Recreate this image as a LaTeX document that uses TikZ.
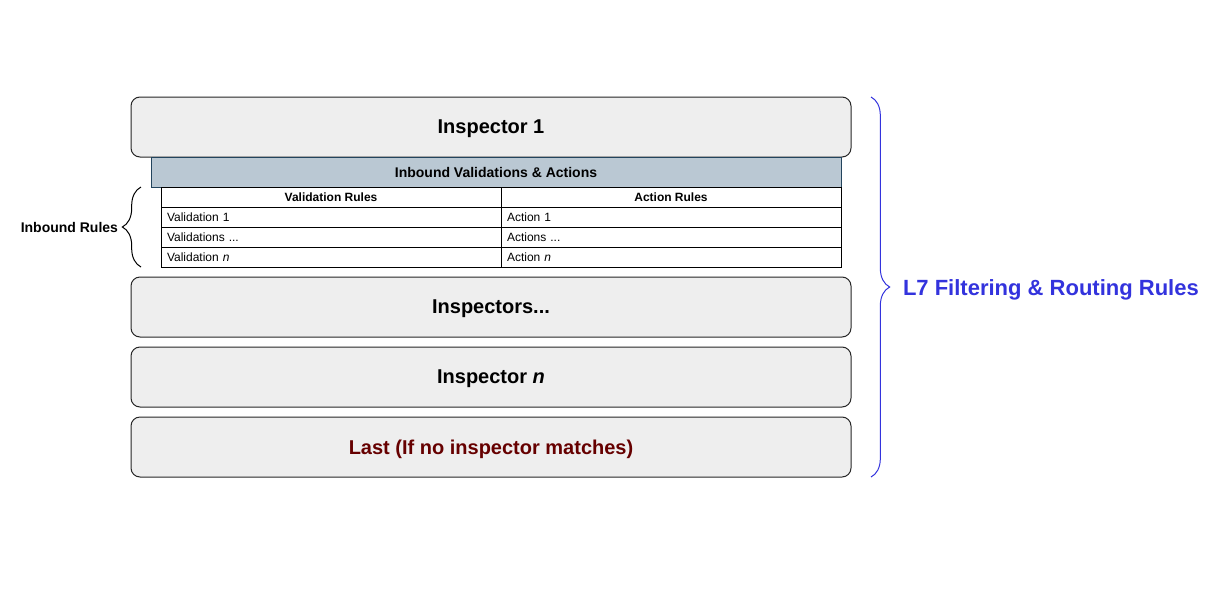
\documentclass[tikz,border=0pt]{standalone}
\usepackage{fontspec}
\setmainfont{Liberation Sans}
\usetikzlibrary{positioning,decorations.pathreplacing}
\definecolor{boxgray}{RGB}{238,238,238}
\definecolor{barblue}{RGB}{186,200,211}
\definecolor{bardark}{RGB}{35,68,93}
\definecolor{rulesblue}{RGB}{51,51,221}
\definecolor{lastred}{RGB}{102,0,0}

\begin{document}
\begin{tikzpicture}[x=0.75pt,y=-0.75pt,line width=0.75pt,every node/.style={outer sep=0pt,text depth=0pt},
    inspector/.style={draw=black!85,fill=boxgray,rounded corners=6.75pt,minimum width=540pt,minimum height=45pt,font=\fontsize{15}{18}\selectfont\bfseries},
    headbar/.style={draw=bardark,fill=barblue,minimum width=517.5pt,minimum height=22.5pt,font=\fontsize{10.5}{12}\selectfont\bfseries},
    cellhead/.style={draw,minimum width=255pt,minimum height=15pt,inner sep=0pt,font=\fontsize{9}{10}\selectfont\bfseries},
    cell/.style={draw,text width=246pt,inner xsep=4.5pt,inner ysep=0pt,minimum height=15pt,align=left,font=\fontsize{9}{10}\selectfont},
    rulebrace/.style={draw=#1,decorate,decoration={brace,amplitude=14pt}},
    bracelabel/.style={inner sep=0pt,font=\fontsize{10.5}{12}\selectfont\bfseries}]
    \useasboundingbox (0,0) rectangle (1220,600);

    \node[inspector] (insp1) at (491,127) {Inspector 1};
    \node[headbar] (bar) [below=0pt of insp1, xshift=3.75pt] {Inbound Validations \& Actions};

    \node[cellhead] (vhead) [below right=0pt and 7.5pt of bar.south west] {Validation Rules};
    \node[cellhead] (ahead) [right=0pt of vhead] {Action Rules};
    \node[cell] (val1) [below=0pt of vhead] {Validation 1};
    \node[cell] (act1) [right=0pt of val1] {Action 1};
    \node[cell] (valx) [below=0pt of val1] {Validations ...};
    \node[cell] (actx) [right=0pt of valx] {Actions ...};
    \node[cell] (valn) [below=0pt of valx] {Validation \textit{n}};
    \node[cell] (actn) [right=0pt of valn] {Action \textit{n}};

    \node[inspector] (insp2) [below=90pt of insp1] {Inspectors...};
    \node[inspector] (inspn) [below=7.5pt of insp2] {Inspector \textit{n}};
    \node[inspector,text=lastred] (last) [below=7.5pt of inspn] {Last (If no inspector matches)};

    \coordinate (ltop) at (141,187);
    \coordinate (lbot) at (141,267);
    \draw[rulebrace=black] (lbot) -- (ltop);
    \node[bracelabel,anchor=east] (inbound) at (118,227) {Inbound Rules};

    \coordinate (rtop) at (871,97);
    \coordinate (rbot) at (871,477);
    \draw[rulebrace=rulesblue] (rtop) -- (rbot);
    \node[bracelabel,anchor=west,text=rulesblue,font=\fontsize{16.5}{20}\selectfont\bfseries] (l7) at (903,288) {L7 Filtering \& Routing Rules};
\end{tikzpicture}
\end{document}
